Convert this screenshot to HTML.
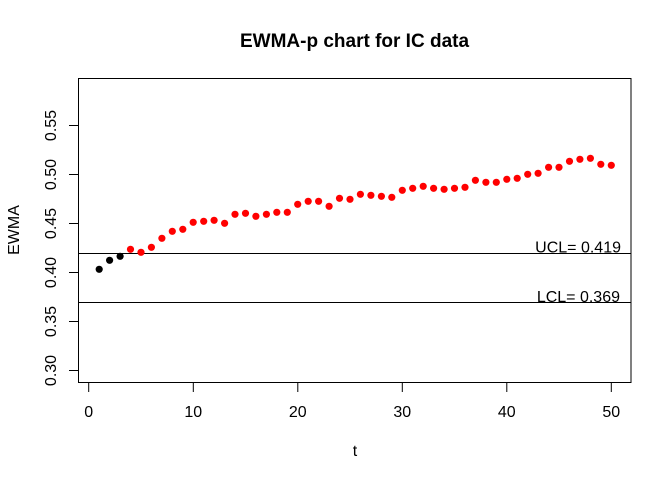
<!DOCTYPE html>
<html><head><meta charset="utf-8"><style>
html,body{margin:0;padding:0;background:#fff;}
svg{display:block;font-family:"Liberation Sans",Arial,sans-serif;}
</style></head><body>
<svg width="672" height="480" viewBox="0 0 672 480" xmlns="http://www.w3.org/2000/svg">
<rect width="672" height="480" fill="#fff"/>
<text x="354.5" y="47" text-anchor="middle" font-size="19" font-weight="bold">EWMA-p chart for IC data</text>
<rect x="78.5" y="78.5" width="552.5" height="304" fill="none" stroke="#000" stroke-width="1"/>
<g stroke="#000" stroke-width="1">
<line x1="78.5" y1="253.5" x2="631" y2="253.5"/>
<line x1="78.5" y1="302.5" x2="631" y2="302.5"/>
<line x1="88.7" y1="382.5" x2="88.7" y2="392"/>
<line x1="193.3" y1="382.5" x2="193.3" y2="392"/>
<line x1="297.8" y1="382.5" x2="297.8" y2="392"/>
<line x1="402.3" y1="382.5" x2="402.3" y2="392"/>
<line x1="506.8" y1="382.5" x2="506.8" y2="392"/>
<line x1="611.3" y1="382.5" x2="611.3" y2="392"/>
<line x1="88.7" y1="382.5" x2="611.3" y2="382.5"/>
<line x1="69" y1="125.5" x2="78.5" y2="125.5"/>
<line x1="69" y1="174.5" x2="78.5" y2="174.5"/>
<line x1="69" y1="223.5" x2="78.5" y2="223.5"/>
<line x1="69" y1="272.5" x2="78.5" y2="272.5"/>
<line x1="69" y1="321.5" x2="78.5" y2="321.5"/>
<line x1="69" y1="370.5" x2="78.5" y2="370.5"/>
<line x1="78.5" y1="125.5" x2="78.5" y2="370.5"/>
</g>
<g font-size="16" text-anchor="middle">
<text x="88.7" y="417">0</text>
<text x="193.3" y="417">10</text>
<text x="297.8" y="417">20</text>
<text x="402.3" y="417">30</text>
<text x="506.8" y="417">40</text>
<text x="611.3" y="417">50</text>
<text x="355" y="456">t</text>
<text transform="translate(56,125.5) rotate(-90)">0.55</text>
<text transform="translate(56,174.5) rotate(-90)">0.50</text>
<text transform="translate(56,223.5) rotate(-90)">0.45</text>
<text transform="translate(56,272.5) rotate(-90)">0.40</text>
<text transform="translate(56,321.5) rotate(-90)">0.35</text>
<text transform="translate(56,370.5) rotate(-90)">0.30</text>
<text transform="translate(19,230) rotate(-90)">EWMA</text>
</g>
<g font-size="16" text-anchor="end">
<text x="621" y="252.5">UCL= 0.419</text>
<text x="620" y="302">LCL= 0.369</text>
</g>
<g fill="#000">
<circle cx="99.2" cy="269.3" r="3.6"/>
<circle cx="109.6" cy="260.3" r="3.6"/>
<circle cx="120.1" cy="256.3" r="3.6"/>
</g>
<g fill="#f00">
<circle cx="130.5" cy="249.3" r="3.6"/>
<circle cx="141.0" cy="252.3" r="3.6"/>
<circle cx="151.4" cy="247.3" r="3.6"/>
<circle cx="161.9" cy="238.3" r="3.6"/>
<circle cx="172.3" cy="231.3" r="3.6"/>
<circle cx="182.8" cy="229.3" r="3.6"/>
<circle cx="193.2" cy="222.3" r="3.6"/>
<circle cx="203.7" cy="221.3" r="3.6"/>
<circle cx="214.1" cy="220.3" r="3.6"/>
<circle cx="224.6" cy="223.3" r="3.6"/>
<circle cx="235.0" cy="214.3" r="3.6"/>
<circle cx="245.5" cy="213.3" r="3.6"/>
<circle cx="255.9" cy="216.3" r="3.6"/>
<circle cx="266.4" cy="214.3" r="3.6"/>
<circle cx="276.8" cy="212.3" r="3.6"/>
<circle cx="287.3" cy="212.3" r="3.6"/>
<circle cx="297.7" cy="204.3" r="3.6"/>
<circle cx="308.2" cy="201.3" r="3.6"/>
<circle cx="318.6" cy="201.3" r="3.6"/>
<circle cx="329.1" cy="206.3" r="3.6"/>
<circle cx="339.5" cy="198.3" r="3.6"/>
<circle cx="350.0" cy="199.3" r="3.6"/>
<circle cx="360.4" cy="194.3" r="3.6"/>
<circle cx="370.9" cy="195.3" r="3.6"/>
<circle cx="381.4" cy="196.3" r="3.6"/>
<circle cx="391.8" cy="197.3" r="3.6"/>
<circle cx="402.3" cy="190.3" r="3.6"/>
<circle cx="412.7" cy="188.3" r="3.6"/>
<circle cx="423.2" cy="186.3" r="3.6"/>
<circle cx="433.6" cy="188.3" r="3.6"/>
<circle cx="444.1" cy="189.3" r="3.6"/>
<circle cx="454.5" cy="188.3" r="3.6"/>
<circle cx="465.0" cy="187.3" r="3.6"/>
<circle cx="475.4" cy="180.3" r="3.6"/>
<circle cx="485.9" cy="182.3" r="3.6"/>
<circle cx="496.3" cy="182.3" r="3.6"/>
<circle cx="506.8" cy="179.3" r="3.6"/>
<circle cx="517.2" cy="178.3" r="3.6"/>
<circle cx="527.7" cy="174.3" r="3.6"/>
<circle cx="538.1" cy="173.3" r="3.6"/>
<circle cx="548.6" cy="167.3" r="3.6"/>
<circle cx="559.0" cy="167.3" r="3.6"/>
<circle cx="569.5" cy="161.3" r="3.6"/>
<circle cx="579.9" cy="159.3" r="3.6"/>
<circle cx="590.4" cy="158.3" r="3.6"/>
<circle cx="600.8" cy="164.3" r="3.6"/>
<circle cx="611.3" cy="165.3" r="3.6"/>
</g>
</svg>
</body></html>
